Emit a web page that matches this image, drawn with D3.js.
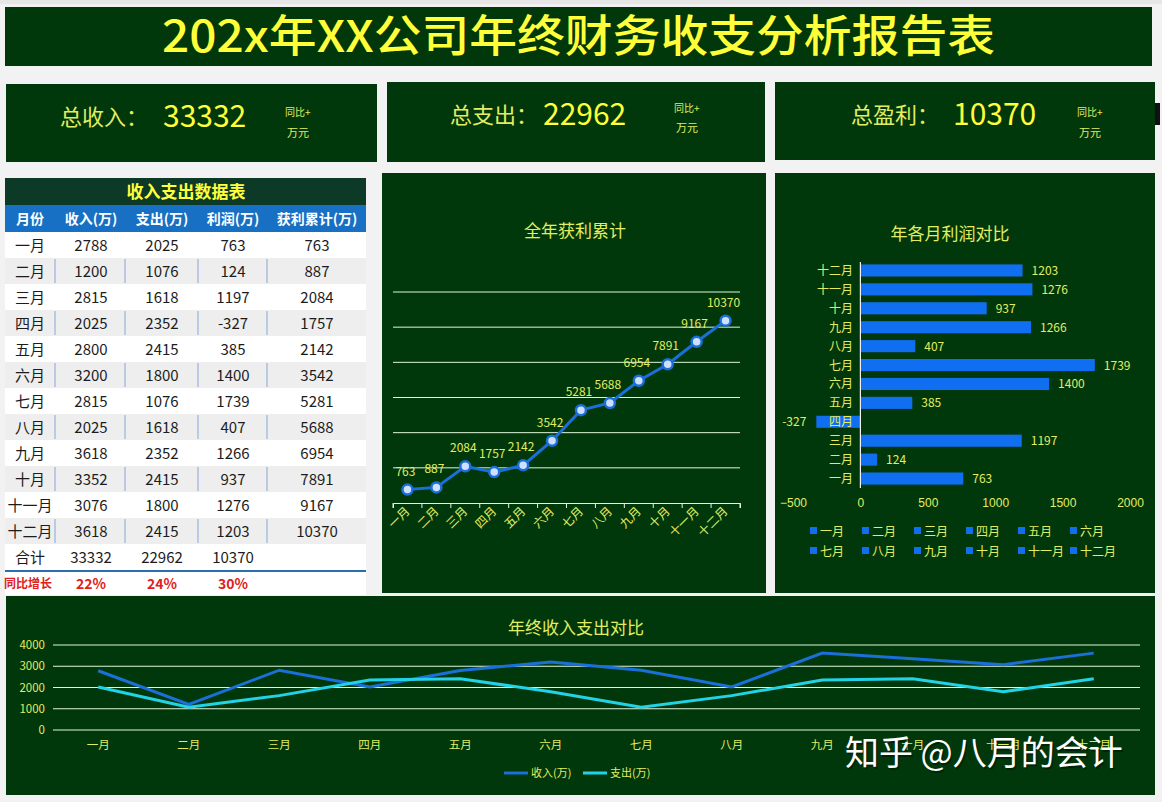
<!DOCTYPE html>
<html><head><meta charset="utf-8">
<script src="https://cdn.jsdelivr.net/npm/d3@7"></script>
<style>
body{margin:0;background:#f1f2f1;}
svg{display:block;font-family:"Noto Sans CJK SC","Noto Sans",sans-serif;}
</style>
</head><body>
<svg id="c" width="1162" height="802"></svg>
<script>
const title = "202x年XX公司年终财务收支分析报告表";
const months = ["一月","二月","三月","四月","五月","六月","七月","八月","九月","十月","十一月","十二月"];
const income = [2788,1200,2815,2025,2800,3200,2815,2025,3618,3352,3076,3618];
const expense = [2025,1076,1618,2352,2415,1800,1076,1618,2352,2415,1800,2415];
const profit = [763,124,1197,-327,385,1400,1739,407,1266,937,1276,1203];
const cumulative = [763,887,2084,1757,2142,3542,5281,5688,6954,7891,9167,10370];
const totals = [33332,22962,10370];
const yoy = ["22%","24%","30%"];
const kpiLabels = ["总收入：","总支出：","总盈利："];
const tableHeaders = ["月份","收入(万)","支出(万)","利润(万)","获利累计(万)"];
const cumTicks = [2000,4000,6000,8000,10000,12000];
const profitTicks = [-500,0,500,1000,1500,2000];
const compareTicks = [0,1000,2000,3000,4000];
const seriesNames = ["收入(万)","支出(万)"];

const GREEN = "#00380b", YEL = "#ffff3a", PALE = "#e2ee62", GRID = "#e0f6da";
const BLUE = "#1a6fd8", BAR = "#106ef0", CYAN = "#22d3e6";
const svg = d3.select("#c");

// spreadsheet strip
svg.append("rect").attr("x",0).attr("y",0).attr("width",1162).attr("height",4).attr("fill","#e6e6e6");

// Title
svg.append("rect").attr("x",5).attr("y",7).attr("width",1147).attr("height",59).attr("fill",GREEN);
svg.append("text").attr("x",162).attr("y",52).attr("fill",YEL).attr("font-size",44).attr("font-weight",500)
  .attr("textLength",833).attr("lengthAdjust","spacingAndGlyphs").text(title);

// KPI boxes
const kpiBoxes = [
  {x:6,y:84,w:371,h:78, lx:60, nx:163, sx:285, sy:112, uy:133},
  {x:387,y:82,w:378,h:80, lx:450, nx:543, sx:674, sy:108, uy:128},
  {x:775,y:82,w:380,h:78, lx:851, nx:953, sx:1077, sy:112, uy:133}
];
kpiBoxes.forEach((b,i)=>{
  svg.append("rect").attr("x",b.x).attr("y",b.y).attr("width",b.w).attr("height",b.h).attr("fill",GREEN);
  svg.append("text").attr("x",b.lx).attr("y",b.y+41).attr("fill",PALE).attr("font-size",22).text(kpiLabels[i]);
  svg.append("text").attr("x",b.nx).attr("y",b.y+43).attr("fill",YEL).attr("font-size",30).text(totals[i]);
  svg.append("text").attr("x",b.sx).attr("y",b.sy+4).attr("fill",PALE).attr("font-size",10).text("同比+");
  svg.append("text").attr("x",b.sx+2).attr("y",b.uy+4).attr("fill",PALE).attr("font-size",11).text("万元");
});
svg.append("rect").attr("x",1155).attr("y",103).attr("width",5).attr("height",22).attr("fill","#111");

// Table
const tX = 5, tW = 361;
svg.append("rect").attr("x",tX).attr("y",232).attr("width",tW).attr("height",363).attr("fill","#fff");
svg.append("rect").attr("x",tX).attr("y",178).attr("width",tW).attr("height",27).attr("fill","#0c3a26");
svg.append("text").attr("x",186).attr("y",198).attr("text-anchor","middle").attr("fill",YEL)
  .attr("font-size",17).attr("font-weight",700).text("收入支出数据表");
svg.append("rect").attr("x",tX).attr("y",205).attr("width",tW).attr("height",27).attr("fill","#1870c4");
const colX = [30,91,162,233,317];
const sepX = [55,125,198,267];
tableHeaders.forEach((h,i)=>{
  svg.append("text").attr("x",colX[i]).attr("y",224).attr("text-anchor","middle").attr("fill","#fff")
    .attr("font-size",14).attr("font-weight",700).text(h);
});
const rowY = d3.scaleBand().domain(d3.range(13)).range([232,570]);
months.forEach((m,i)=>{
  const y = rowY(i), h = rowY.bandwidth();
  if(i%2===1){
    svg.append("rect").attr("x",tX).attr("y",y).attr("width",tW).attr("height",h).attr("fill","#eeeeee");
    sepX.forEach(sx=>svg.append("line").attr("x1",sx).attr("x2",sx).attr("y1",y+1).attr("y2",y+h-1)
      .attr("stroke","#86a7d4").attr("stroke-width",1));
  }
  const vals = [m,income[i],expense[i],profit[i],cumulative[i]];
  vals.forEach((v,j)=>{
    svg.append("text").attr("x",colX[j]).attr("y",y+h/2+5.5).attr("text-anchor","middle")
      .attr("fill","#1c1c1c").attr("font-size",15).text(v);
  });
});
{
  const y = rowY(12), h = rowY.bandwidth();
  ["合计",...totals].forEach((v,j)=>{
    svg.append("text").attr("x",colX[j]).attr("y",y+h/2+5.5).attr("text-anchor","middle")
      .attr("fill","#1c1c1c").attr("font-size",15).text(v);
  });
}
svg.append("line").attr("x1",tX).attr("x2",tX+tW).attr("y1",571).attr("y2",571).attr("stroke","#2a6db0").attr("stroke-width",2);
svg.append("text").attr("x",4).attr("y",588).attr("fill","#e02020").attr("font-size",12).attr("font-weight",700).text("同比增长");
yoy.forEach((v,j)=>{
  svg.append("text").attr("x",colX[j+1]).attr("y",589).attr("text-anchor","middle").attr("fill","#e02020")
    .attr("font-size",14).attr("font-weight",700).text(v);
});

// Panel: cumulative profit line
svg.append("rect").attr("x",382).attr("y",173).attr("width",384).attr("height",420).attr("fill",GREEN);
svg.append("text").attr("x",575).attr("y",237).attr("text-anchor","middle").attr("fill",PALE).attr("font-size",17).text("全年获利累计");
const cx = d3.scaleBand().domain(months).range([393,740]);
const cy = d3.scaleLinear().domain([0,12000]).range([503,292]);
const g1 = svg.append("g");
g1.selectAll("line.g").data(cumTicks).join("line").attr("x1",393).attr("x2",740)
  .attr("y1",d=>cy(d)).attr("y2",d=>cy(d)).attr("stroke",GRID).attr("stroke-width",1);
const ax1 = g1.append("g").attr("transform","translate(0,503)")
  .call(d3.axisBottom(cx).tickSizeOuter(5).tickSize(5).tickFormat(""));
ax1.select(".domain").attr("stroke","#e8f0e8");
ax1.selectAll(".tick line").remove();
const bounds = d3.range(13).map(i=>393 + i*cx.step());
g1.selectAll("line.tk").data(bounds).join("line").attr("x1",d=>d).attr("x2",d=>d)
  .attr("y1",503).attr("y2",508).attr("stroke","#e8f0e8");
g1.selectAll("text.xl").data(months).join("text")
  .attr("transform",d=>`translate(${cx(d)+cx.bandwidth()/2+3},${512}) rotate(-45)`)
  .attr("text-anchor","end").attr("fill",PALE).attr("font-size",12).text(d=>d);
const line1 = d3.line().x((d,i)=>cx(months[i])+cx.bandwidth()/2).y(d=>cy(d));
g1.append("path").datum(cumulative).attr("d",line1).attr("fill","none").attr("stroke",BLUE).attr("stroke-width",3);
g1.selectAll("circle").data(cumulative).join("circle")
  .attr("cx",(d,i)=>cx(months[i])+cx.bandwidth()/2).attr("cy",d=>cy(d)).attr("r",5)
  .attr("fill","#cfe0ff").attr("stroke",BLUE).attr("stroke-width",2.5);
g1.selectAll("text.dl").data(cumulative).join("text")
  .attr("x",(d,i)=>cx(months[i])+cx.bandwidth()/2-2).attr("y",d=>cy(d)-14)
  .attr("text-anchor","middle").attr("fill",PALE).attr("font-size",12).text(d=>d);

// Panel: monthly profit bars
svg.append("rect").attr("x",775).attr("y",173).attr("width",380).attr("height",420).attr("fill",GREEN);
svg.append("text").attr("x",950).attr("y",240).attr("text-anchor","middle").attr("fill",PALE).attr("font-size",17).text("年各月利润对比");
const bx = d3.scaleLinear().domain([-500,2000]).range([793,1130]);
const by = d3.scaleBand().domain(months.slice().reverse()).range([261,488]).paddingInner(0.36).paddingOuter(0.18);
const g2 = svg.append("g");
g2.selectAll("rect").data(profit).join("rect")
  .attr("x",d=>bx(Math.min(0,d))).attr("width",d=>Math.abs(bx(d)-bx(0)))
  .attr("y",(d,i)=>by(months[i])).attr("height",by.bandwidth()).attr("fill",BAR);
g2.append("line").attr("x1",bx(0)).attr("x2",bx(0)).attr("y1",262).attr("y2",488).attr("stroke","#f0f0f0").attr("stroke-width",1.2);
g2.selectAll("text.cat").data(months).join("text")
  .attr("x",853).attr("y",d=>by(d)+by.bandwidth()/2+4.5).attr("text-anchor","end")
  .attr("fill",PALE).attr("font-size",12).text(d=>d);
g2.selectAll("text.val").data(profit).join("text")
  .attr("x",d=>d<0? bx(d)-10 : bx(d)+9).attr("y",(d,i)=>by(months[i])+by.bandwidth()/2+4.5)
  .attr("text-anchor",d=>d<0?"end":"start").attr("fill",PALE).attr("font-size",12).text(d=>d);
const ax2 = g2.append("g").attr("transform","translate(0,490)")
  .call(d3.axisBottom(bx).tickValues(profitTicks).tickFormat(d3.format("d")).tickSize(0).tickPadding(8));
ax2.select(".domain").remove();
ax2.selectAll("text").attr("fill",PALE).attr("font-size",12).attr("font-family","inherit");
const lg = g2.selectAll("g.lg").data(months).join("g")
  .attr("transform",(d,i)=>`translate(${810 + (i%6)*52},${(i<6?531:551)})`);
lg.append("rect").attr("x",0).attr("y",-4).attr("width",7).attr("height",7).attr("fill",BAR);
lg.append("text").attr("x",10).attr("y",4.5).attr("fill",PALE).attr("font-size",12).text(d=>d);

// Bottom panel: income vs expense
svg.append("rect").attr("x",6).attr("y",596).attr("width",1149).attr("height",199).attr("fill",GREEN);
svg.append("text").attr("x",576).attr("y",634).attr("text-anchor","middle").attr("fill",PALE).attr("font-size",17).text("年终收入支出对比");
const lx = d3.scaleBand().domain(months).range([53,1139]);
const ly = d3.scaleLinear().domain([0,4000]).range([730,645]);
const g3 = svg.append("g");
g3.selectAll("line.g").data(compareTicks).join("line").attr("x1",53).attr("x2",1140)
  .attr("y1",d=>ly(d)).attr("y2",d=>ly(d)).attr("stroke",GRID).attr("stroke-width",1);
g3.selectAll("text.yl").data(compareTicks).join("text").attr("x",45).attr("y",d=>ly(d)+4)
  .attr("text-anchor","end").attr("fill",PALE).attr("font-size",11.5).text(d=>d);
g3.selectAll("text.xl").data(months).join("text").attr("x",d=>lx(d)+lx.bandwidth()/2).attr("y",749)
  .attr("text-anchor","middle").attr("fill",PALE).attr("font-size",11.5).text(d=>d);
const line3 = d3.line().x((d,i)=>lx(months[i])+lx.bandwidth()/2).y(d=>ly(d));
g3.append("path").datum(income).attr("d",line3).attr("fill","none").attr("stroke",BLUE).attr("stroke-width",3);
g3.append("path").datum(expense).attr("d",line3).attr("fill","none").attr("stroke",CYAN).attr("stroke-width",3);
[[504,BLUE],[583,CYAN]].forEach(([x,c],i)=>{
  g3.append("line").attr("x1",x).attr("x2",x+24).attr("y1",773).attr("y2",773).attr("stroke",c).attr("stroke-width",3);
  g3.append("text").attr("x",x+27).attr("y",777).attr("fill",PALE).attr("font-size",11).text(seriesNames[i]);
});

// watermark
svg.append("text").attr("x",845).attr("y",765).attr("fill","#000").attr("opacity",0.35).attr("font-size",34)
  .attr("transform","translate(1.5,1.5)").text("知乎 @八月的会计");
svg.append("text").attr("x",845).attr("y",765).attr("fill","#fff").attr("font-size",34).text("知乎 @八月的会计");
</script>
</body></html>
